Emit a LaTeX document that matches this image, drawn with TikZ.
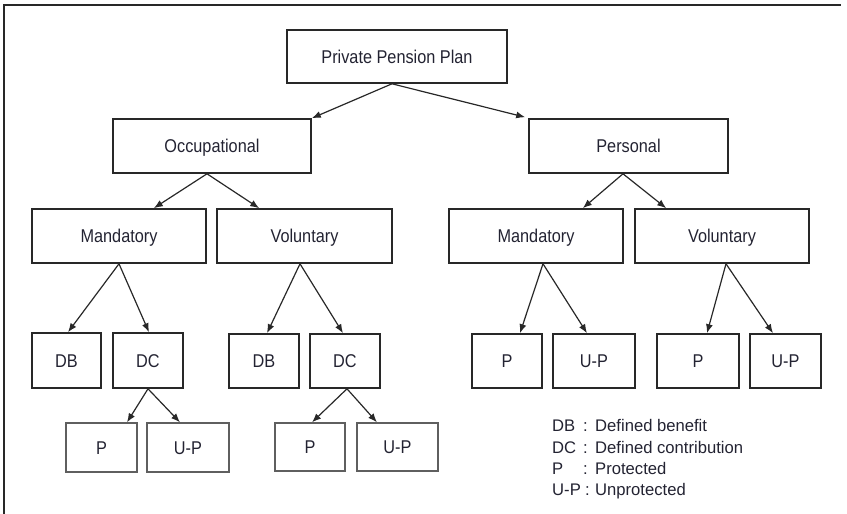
\documentclass[tikz,border=0pt]{standalone}
\usepackage{fontspec}
\setmainfont{Liberation Sans}
\newfontfamily\boxfont{Liberation Sans}[FakeStretch=0.88]
\newfontfamily\legfont{Liberation Sans}[FakeStretch=0.99]
\usetikzlibrary{arrows.meta,calc}
\definecolor{txt}{RGB}{35,35,50}
\definecolor{edge}{RGB}{40,40,40}
\definecolor{lite}{RGB}{95,95,95}
\tikzset{
  box/.style={draw=edge,line width=1.6pt,rectangle,inner sep=0pt,text=txt,
    text height=13.3pt,text depth=0pt,
    font=\boxfont\fontsize{18.5}{21}\selectfont},
  lbox/.style={box,draw=lite,line width=1.3pt},
  arr/.style={draw=edge,line width=1.2pt,-{Latex[length=9pt,width=7pt]}},
  leg/.style={anchor=base west,inner sep=0pt,text=txt,
    font=\legfont\fontsize{16.8}{19}\selectfont}
}
\begin{document}
\begin{tikzpicture}[x=1pt,y=-1pt]
\useasboundingbox (0,0) rectangle (847,514);
% frame (top and left only)
\draw[edge,line width=1.8pt] (4,514) -- (4,5) -- (841,5);
% level 1
\node[box,minimum width=220pt,minimum height=53pt] (ppp) at (397,56.5) {Private Pension Plan};
% level 2
\node[box,minimum width=198pt,minimum height=54pt] (occ) at (212,146) {Occupational};
\node[box,minimum width=199pt,minimum height=54pt] (per) at (628.5,146) {Personal};
% level 3
\node[box,minimum width=174pt,minimum height=54pt] (om) at (119,236) {Mandatory};
\node[box,minimum width=175pt,minimum height=54pt] (ov) at (304.5,236) {Voluntary};
\node[box,minimum width=174pt,minimum height=54pt] (pm) at (536,236) {Mandatory};
\node[box,minimum width=174pt,minimum height=54pt] (pv) at (722,236) {Voluntary};
% level 4
\node[box,minimum width=69pt,minimum height=55pt] (odb) at (66.5,360.5) {DB};
\node[box,minimum width=70pt,minimum height=55pt] (odc) at (148,360.5) {DC};
\node[box,minimum width=70pt,minimum height=54pt] (vdb) at (264,361) {DB};
\node[box,minimum width=70pt,minimum height=54pt] (vdc) at (345,361) {DC};
\node[box,minimum width=70pt,minimum height=54pt] (pmp) at (507,361) {P};
\node[box,minimum width=82pt,minimum height=54pt] (pmu) at (594,361) {U-P};
\node[box,minimum width=82pt,minimum height=54pt] (pvp) at (698,361) {P};
\node[box,minimum width=71pt,minimum height=54pt] (pvu) at (785.5,361) {U-P};
% level 5
\node[lbox,minimum width=71pt,minimum height=49pt] (odcp) at (101.5,447.5) {P};
\node[lbox,minimum width=82pt,minimum height=49pt] (odcu) at (188,447.5) {U-P};
\node[lbox,minimum width=70pt,minimum height=48pt] (vdcp) at (310,447) {P};
\node[lbox,minimum width=81pt,minimum height=48pt] (vdcu) at (397.5,447) {U-P};
% arrows
\draw[arr] ($(ppp.south)+(-5,0)$) -- (occ.north east);
\draw[arr] ($(ppp.south)+(-5,0)$) -- ($(per.north west)+(-3,-1)$);
\draw[arr] ($(occ.south)+(-5,0)$) -- ($(om.north east)+(-53,0)$);
\draw[arr] ($(occ.south)+(-5,0)$) -- ($(ov.north west)+(43,0)$);
\draw[arr] ($(per.south)+(-5.5,0)$) -- ($(pm.north east)+(-41,0)$);
\draw[arr] ($(per.south)+(-5.5,0)$) -- ($(pv.north west)+(32,0)$);
\draw[arr] (om.south) -- ($(odb.north)+(1.5,0)$);
\draw[arr] (om.south) -- ($(odc.north)+(1,0)$);
\draw[arr] ($(ov.south)+(-4.5,0)$) -- ($(vdb.north)+(3,0)$);
\draw[arr] ($(ov.south)+(-4.5,0)$) -- ($(vdc.north)+(-2,0)$);
\draw[arr] ($(pm.south)+(7,0)$) -- ($(pmp.north)+(13,0)$);
\draw[arr] ($(pm.south)+(7,0)$) -- ($(pmu.north)+(-7,0)$);
\draw[arr] ($(pv.south)+(4,0)$) -- ($(pvp.north)+(9,0)$);
\draw[arr] ($(pv.south)+(4,0)$) -- ($(pvu.north)+(-12.5,0)$);
\draw[arr] (odc.south) -- ($(odcp.north)+(25.5,0)$);
\draw[arr] (odc.south) -- ($(odcu.north)+(-8,0)$);
\draw[arr] ($(vdc.south)+(2,0)$) -- ($(vdcp.north)+(2,0)$);
\draw[arr] ($(vdc.south)+(2,0)$) -- ($(vdcu.north)+(-20.5,0)$);
% legend
\node[leg] (l1a) at (552,431) {DB};
\node[leg] (l1b) at (583,431) {:};
\node[leg] (l1c) at (595,431) {Defined benefit};
\node[leg] (l2a) at (552,453) {DC};
\node[leg] (l2b) at (583,453) {:};
\node[leg] (l2c) at (595,453) {Defined contribution};
\node[leg] (l3a) at (552,474) {P};
\node[leg] (l3b) at (583,474) {:};
\node[leg] (l3c) at (595,474) {Protected};
\node[leg] (l4a) at (552,495) {U-P};
\node[leg] (l4b) at (585,495) {:};
\node[leg] (l4c) at (595,495) {Unprotected};
\end{tikzpicture}
\end{document}
